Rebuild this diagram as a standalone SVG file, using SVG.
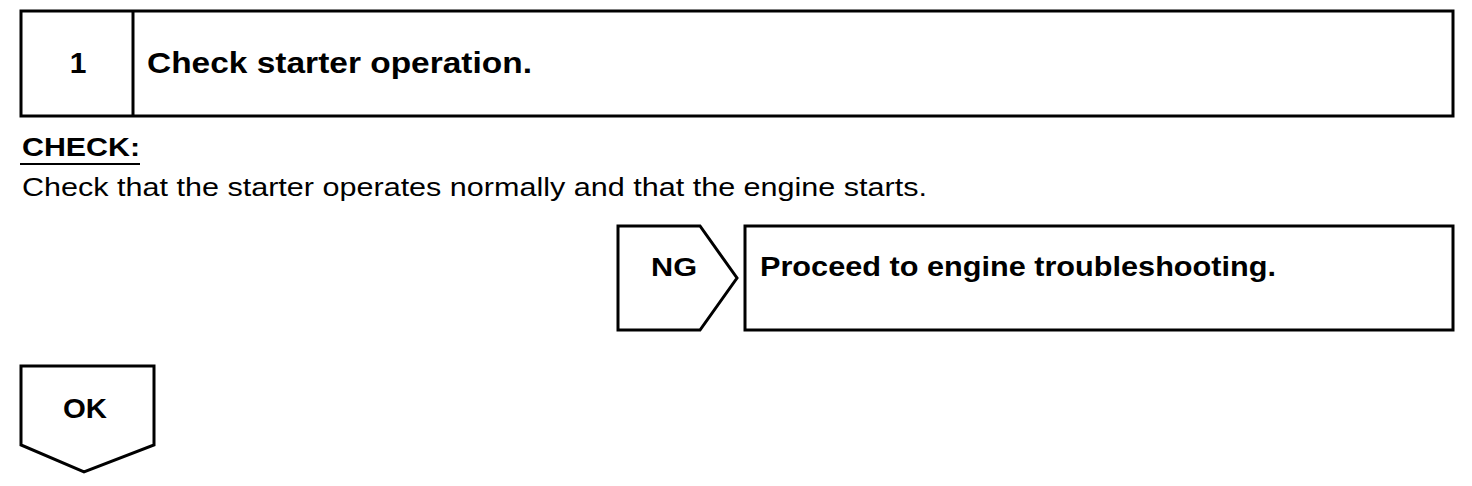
<svg xmlns="http://www.w3.org/2000/svg" width="1472" height="486" viewBox="0 0 1472 486">
<style>
.box{fill:#fff;stroke:#000;stroke-width:3;stroke-linejoin:miter}
.b{font-family:"Liberation Sans",Arial,sans-serif;font-weight:bold;fill:#000}
.r{font-family:"Liberation Sans",Arial,sans-serif;fill:#000}
</style>
<rect width="1472" height="486" fill="#fff"/>
<g id="step1">
<rect class="box" x="21" y="11" width="1432" height="105"/>
<line x1="133" y1="11" x2="133" y2="116" stroke="#000" stroke-width="3"/>
<text class="b" x="78" y="73" font-size="30" text-anchor="middle">1</text>
<text class="b" x="147" y="73" font-size="30" textLength="385" lengthAdjust="spacingAndGlyphs">Check starter operation.</text>
</g>
<g id="check">
<text class="b" x="22" y="156" font-size="26" textLength="118" lengthAdjust="spacingAndGlyphs">CHECK:</text>
<line x1="20" y1="164" x2="140" y2="164" stroke="#000" stroke-width="2"/>
<text class="r" x="22" y="196" font-size="26" textLength="905" lengthAdjust="spacingAndGlyphs">Check that the starter operates normally and that the engine starts.</text>
</g>
<g id="ng">
<polygon class="box" points="618,226 700,226 737,278 700,330 618,330"/>
<text class="b" x="651" y="276" font-size="26" textLength="46" lengthAdjust="spacingAndGlyphs">NG</text>
</g>
<g id="proceed">
<rect class="box" x="745" y="226" width="708" height="104"/>
<text class="b" x="760" y="276" font-size="27" textLength="516" lengthAdjust="spacingAndGlyphs">Proceed to engine troubleshooting.</text>
</g>
<g id="ok">
<polygon class="box" points="21,366 154,366 154,445 84,472 21,445"/>
<text class="b" x="63" y="418" font-size="27" textLength="44" lengthAdjust="spacingAndGlyphs">OK</text>
</g>
<g id="connectors"></g>
</svg>
